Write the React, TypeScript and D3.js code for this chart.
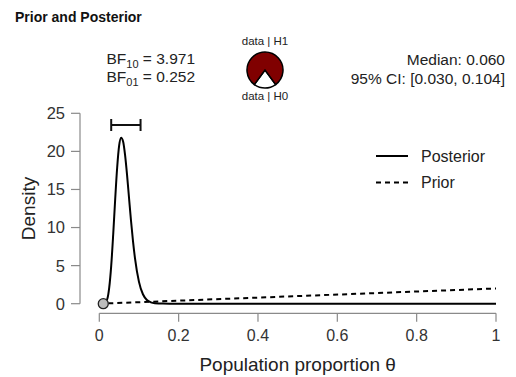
import { useEffect, useRef } from 'react'
import * as d3 from 'd3'

// posterior density
const posteriorTheta = [
  0, 0.01, 0.02, 0.025, 0.03, 0.035, 0.04, 0.045, 0.05, 0.055, 0.06, 0.065, 0.07,
  0.075, 0.08, 0.085, 0.09, 0.1, 0.11, 0.12, 0.13, 0.14, 0.16, 0.2, 0.4, 0.6, 0.8, 1,
]
const posteriorDensity = [
  0, 0.01, 0.61, 2.1, 4.96, 9.06, 13.68, 17.85, 20.75, 21.8, 21.3, 19.5, 16.88,
  13.85, 10.86, 8.19, 5.95, 2.87, 1.24, 0.49, 0.18, 0.06, 0.01, 0, 0, 0, 0, 0,
]
const priorTheta = [0, 1]
const priorDensity = [0, 2]

const ciBounds = [0.03, 0.104]
const testValue = 0.01
const bf10 = 3.971
const bf01 = 0.252
const medianValue = 0.06

const xTicks = [0, 0.2, 0.4, 0.6, 0.8, 1]
const yTicks = [0, 5, 10, 15, 20, 25]
const legendLabels = ['Posterior', 'Prior']

const FONT = '"Liberation Sans", Arial, sans-serif'

export default function App() {
  const svgRef = useRef<SVGSVGElement>(null)
  const width = 516
  const height = 377

  useEffect(() => {
    if (!svgRef.current) return
    const svg = d3.select(svgRef.current)
    svg.selectAll('*').remove()

    const x = d3.scaleLinear().domain([0, 1]).range([99.3, 496])
    const y = d3.scaleLinear().domain([0, 25]).range([303.7, 113.3])

    // title
    svg
      .append('text')
      .attr('x', 15)
      .attr('y', 22)
      .style('font-family', FONT)
      .style('font-size', '14px')
      .style('font-weight', 'bold')
      .style('fill', '#111')
      .text('Prior and Posterior')

    // x axis
    const xAxis = svg.append('g').attr('transform', 'translate(0,313.3)')
    xAxis
      .append('line')
      .attr('x1', x(0))
      .attr('x2', x(1))
      .attr('stroke', '#8a8a8a')
      .attr('stroke-width', 1.2)
    xTicks.forEach((t) => {
      xAxis
        .append('line')
        .attr('x1', x(t))
        .attr('x2', x(t))
        .attr('y1', 0)
        .attr('y2', 8.5)
        .attr('stroke', '#8a8a8a')
        .attr('stroke-width', 1.2)
      xAxis
        .append('text')
        .attr('x', x(t))
        .attr('y', 27.5)
        .attr('text-anchor', 'middle')
        .style('font-family', FONT)
        .style('font-size', '16px')
        .style('fill', '#333')
        .text(String(t))
    })

    // y axis
    const yAxis = svg.append('g').attr('transform', 'translate(80,0)')
    yAxis
      .append('line')
      .attr('y1', y(0))
      .attr('y2', y(25))
      .attr('stroke', '#8a8a8a')
      .attr('stroke-width', 1.2)
    yTicks.forEach((t) => {
      yAxis
        .append('line')
        .attr('x1', -9)
        .attr('x2', 0)
        .attr('y1', y(t))
        .attr('y2', y(t))
        .attr('stroke', '#8a8a8a')
        .attr('stroke-width', 1.2)
      yAxis
        .append('text')
        .attr('x', -15)
        .attr('y', y(t))
        .attr('dy', '0.36em')
        .attr('text-anchor', 'end')
        .style('font-family', FONT)
        .style('font-size', '16.5px')
        .style('fill', '#333')
        .text(String(t))
    })

    svg
      .append('text')
      .attr('transform', `translate(35,${y(12.5)}) rotate(-90)`)
      .attr('text-anchor', 'middle')
      .style('font-family', FONT)
      .style('font-size', '19px')
      .style('fill', '#222')
      .text('Density')

    svg
      .append('text')
      .attr('x', (x(0) + x(1)) / 2)
      .attr('y', 370.5)
      .attr('text-anchor', 'middle')
      .style('font-family', FONT)
      .style('font-size', '19px')
      .style('fill', '#222')
      .text('Population proportion θ')

    // prior
    const priorLine = d3
      .line<number>()
      .x((_, i) => x(priorTheta[i]))
      .y((d) => y(d))
    svg
      .append('path')
      .datum(priorDensity)
      .attr('d', priorLine)
      .attr('fill', 'none')
      .attr('stroke', '#000')
      .attr('stroke-width', 2)
      .attr('stroke-dasharray', '5,4')

    // posterior
    const postLine = d3
      .line<number>()
      .x((_, i) => x(posteriorTheta[i]))
      .y((d) => y(d))
      .curve(d3.curveMonotoneX)
    svg
      .append('path')
      .datum(posteriorDensity)
      .attr('d', postLine)
      .attr('fill', 'none')
      .attr('stroke', '#000')
      .attr('stroke-width', 2)

    // credible interval
    const ciY = 125
    const ci = svg.append('g').attr('stroke', '#111').attr('stroke-width', 2)
    ci.append('line').attr('x1', x(ciBounds[0])).attr('x2', x(ciBounds[1])).attr('y1', ciY).attr('y2', ciY)
    ciBounds.forEach((b) => {
      ci.append('line').attr('x1', x(b)).attr('x2', x(b)).attr('y1', ciY - 6).attr('y2', ciY + 6)
    })

    // test value point
    svg
      .append('circle')
      .attr('cx', x(testValue))
      .attr('cy', y(0))
      .attr('r', 5)
      .attr('fill', '#bdbdbd')
      .attr('stroke', '#222')
      .attr('stroke-width', 1.3)

    // BF text
    const bfText = [
      { sub: '10', val: bf10.toFixed(3), yy: 63.5 },
      { sub: '01', val: bf01.toFixed(3), yy: 82 },
    ]
    bfText.forEach((b) => {
      const t = svg
        .append('text')
        .attr('x', 106.5)
        .attr('y', b.yy)
        .style('font-family', FONT)
        .style('font-size', '15.5px')
        .style('fill', '#222')
      t.append('tspan').text('BF')
      t.append('tspan').attr('dy', 4).style('font-size', '11px').text(b.sub)
      t.append('tspan').attr('dy', -4).text(` = ${b.val}`)
    })

    // median and CI text
    const rightText = [
      `Median: ${medianValue.toFixed(3)}`,
      `95% CI: [${ciBounds[0].toFixed(3)}, ${ciBounds[1].toFixed(3)}]`,
    ]
    rightText.forEach((s, i) => {
      svg
        .append('text')
        .attr('x', 505)
        .attr('y', 65 + i * 18.5)
        .attr('text-anchor', 'end')
        .style('font-family', FONT)
        .style('font-size', '15.5px')
        .style('fill', '#222')
        .text(s)
    })

    // pie
    const pH1 = bf10 / (1 + bf10)
    const pH0 = 1 - pH1
    const w = 2 * Math.PI * pH0
    const pie = d3
      .pie<number>()
      .sort(null)
      .startAngle(Math.PI - w / 2)
      .endAngle(Math.PI - w / 2 + 2 * Math.PI)
    const arc = d3.arc<d3.PieArcDatum<number>>().innerRadius(0).outerRadius(18)
    const pieG = svg.append('g').attr('transform', 'translate(265,70)')
    pieG
      .selectAll('path')
      .data(pie([pH0, pH1]))
      .enter()
      .append('path')
      .attr('d', arc)
      .attr('fill', (_, i) => (i === 0 ? '#ffffff' : '#800000'))
      .attr('stroke', '#000')
      .attr('stroke-width', 1.5)
    ;['data | H1', 'data | H0'].forEach((s, i) => {
      svg
        .append('text')
        .attr('x', 265)
        .attr('y', i === 0 ? 45 : 100)
        .attr('text-anchor', 'middle')
        .style('font-family', FONT)
        .style('font-size', '11.5px')
        .style('fill', '#222')
        .text(s)
    })

    // legend
    legendLabels.forEach((lab, i) => {
      const ly = 156 + i * 26.5
      svg
        .append('line')
        .attr('x1', 376)
        .attr('x2', 408)
        .attr('y1', ly)
        .attr('y2', ly)
        .attr('stroke', '#000')
        .attr('stroke-width', 2)
        .attr('stroke-dasharray', i === 0 ? null : '5,4')
      svg
        .append('text')
        .attr('x', 421)
        .attr('y', ly)
        .attr('dy', '0.36em')
        .style('font-family', FONT)
        .style('font-size', '16px')
        .style('fill', '#222')
        .text(lab)
    })
  }, [])

  return (
    <div style={{ position: 'absolute', left: 0, top: 0, background: '#fff' }}>
      <svg ref={svgRef} width={width} height={height} style={{ display: 'block' }} />
    </div>
  )
}
